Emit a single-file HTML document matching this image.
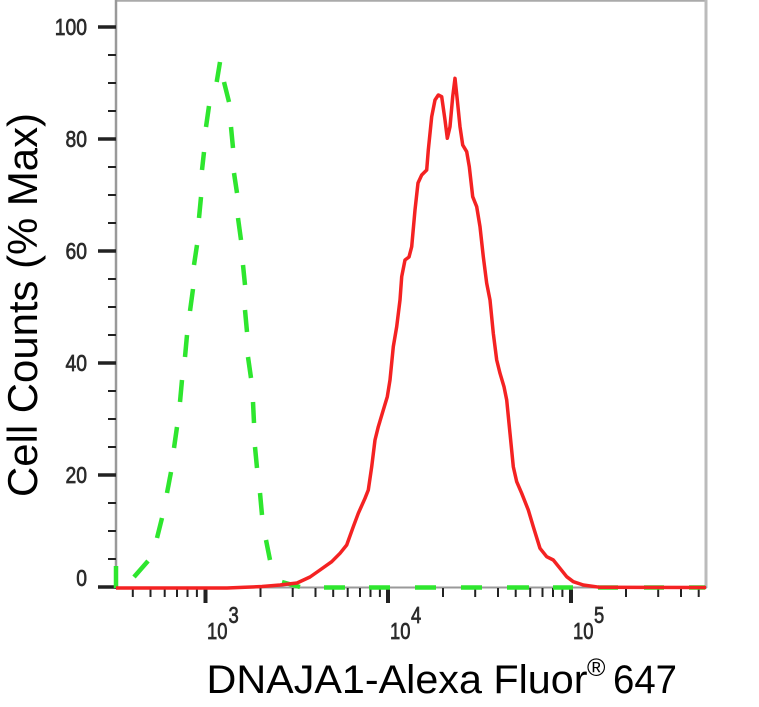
<!DOCTYPE html>
<html>
<head>
<meta charset="utf-8">
<style>
  html,body{margin:0;padding:0;background:#fff;}
  svg{display:block;}
  text{font-family:"Liberation Sans", Arial, sans-serif;}
</style>
</head>
<body>
<svg width="759" height="707" viewBox="0 0 759 707" xmlns="http://www.w3.org/2000/svg">
  <rect x="0" y="0" width="759" height="707" fill="#fff"/>

  <!-- frame -->
  <line x1="116" y1="0.8" x2="707" y2="0.8" stroke="#aaa" stroke-width="2"/>
  <line x1="706" y1="0" x2="706" y2="588" stroke="#bbb" stroke-width="3"/>
  <line x1="116" y1="0" x2="116" y2="589" stroke="#999" stroke-width="2.5"/>
  <line x1="116" y1="587.5" x2="707" y2="587.5" stroke="#999" stroke-width="2"/>

  <!-- y ticks -->
  <g stroke="#222">
    <g stroke-width="3.5">
      <line x1="98" y1="27" x2="116" y2="27"/>
      <line x1="98" y1="139" x2="116" y2="139"/>
      <line x1="98" y1="251" x2="116" y2="251"/>
      <line x1="98" y1="363" x2="116" y2="363"/>
      <line x1="98" y1="475" x2="116" y2="475"/>
      <line x1="98" y1="587" x2="116" y2="587"/>
    </g>
    <g stroke-width="2">
      <line x1="108" y1="55" x2="116" y2="55"/>
      <line x1="108" y1="83" x2="116" y2="83"/>
      <line x1="108" y1="111" x2="116" y2="111"/>
      <line x1="108" y1="167" x2="116" y2="167"/>
      <line x1="108" y1="195" x2="116" y2="195"/>
      <line x1="108" y1="223" x2="116" y2="223"/>
      <line x1="108" y1="279" x2="116" y2="279"/>
      <line x1="108" y1="307" x2="116" y2="307"/>
      <line x1="108" y1="335" x2="116" y2="335"/>
      <line x1="108" y1="391" x2="116" y2="391"/>
      <line x1="108" y1="419" x2="116" y2="419"/>
      <line x1="108" y1="447" x2="116" y2="447"/>
      <line x1="108" y1="503" x2="116" y2="503"/>
      <line x1="108" y1="531" x2="116" y2="531"/>
      <line x1="108" y1="559" x2="116" y2="559"/>
    </g>
  </g>

  <!-- y tick labels -->
  <g fill="#2b2b2b" stroke="#2b2b2b" stroke-width="0.7" font-size="23" text-anchor="end">
    <text transform="translate(87,35) scale(0.84,1)">100</text>
    <text transform="translate(87,147) scale(0.84,1)">80</text>
    <text transform="translate(87,259) scale(0.84,1)">60</text>
    <text transform="translate(87,371) scale(0.84,1)">40</text>
    <text transform="translate(87,483) scale(0.84,1)">20</text>
    <text transform="translate(87,586) scale(0.84,1)">0</text>
  </g>

  <!-- x ticks -->
  <g stroke="#222">
    <g stroke-width="4">
      <line x1="205.5" y1="588" x2="205.5" y2="603"/>
      <line x1="388" y1="588" x2="388" y2="603"/>
      <line x1="571" y1="588" x2="571" y2="603"/>
    </g>
    <g stroke-width="2">
      <line x1="132.8" y1="588" x2="132.8" y2="597"/>
      <line x1="150.5" y1="588" x2="150.5" y2="597"/>
      <line x1="164.7" y1="588" x2="164.7" y2="597"/>
      <line x1="177" y1="588" x2="177" y2="597"/>
      <line x1="187.5" y1="588" x2="187.5" y2="597"/>
      <line x1="196.9" y1="588" x2="196.9" y2="597"/>
      <line x1="260.5" y1="588" x2="260.5" y2="597"/>
      <line x1="292.7" y1="588" x2="292.7" y2="597"/>
      <line x1="315.5" y1="588" x2="315.5" y2="597"/>
      <line x1="333.2" y1="588" x2="333.2" y2="597"/>
      <line x1="347.7" y1="588" x2="347.7" y2="597"/>
      <line x1="360" y1="588" x2="360" y2="597"/>
      <line x1="370.5" y1="588" x2="370.5" y2="597"/>
      <line x1="379.9" y1="588" x2="379.9" y2="597"/>
      <line x1="443" y1="588" x2="443" y2="597"/>
      <line x1="475.2" y1="588" x2="475.2" y2="597"/>
      <line x1="498" y1="588" x2="498" y2="597"/>
      <line x1="515.7" y1="588" x2="515.7" y2="597"/>
      <line x1="530.2" y1="588" x2="530.2" y2="597"/>
      <line x1="542.5" y1="588" x2="542.5" y2="597"/>
      <line x1="553" y1="588" x2="553" y2="597"/>
      <line x1="562.4" y1="588" x2="562.4" y2="597"/>
      <line x1="626" y1="588" x2="626" y2="597"/>
      <line x1="658.2" y1="588" x2="658.2" y2="597"/>
      <line x1="681" y1="588" x2="681" y2="597"/>
      <line x1="698.7" y1="588" x2="698.7" y2="597"/>
    </g>
  </g>

  <!-- x tick labels -->
  <g fill="#2b2b2b" stroke="#2b2b2b" stroke-width="0.7" font-size="23">
    <text transform="translate(207,639) scale(0.8,1)">10</text>
    <text transform="translate(228.5,623) scale(0.8,1)">3</text>
    <text transform="translate(390,639) scale(0.8,1)">10</text>
    <text transform="translate(411,623) scale(0.8,1)">4</text>
    <text transform="translate(573,639) scale(0.8,1)">10</text>
    <text transform="translate(594,623) scale(0.8,1)">5</text>
  </g>

  <!-- green dashed curve (isotype) -->
  <g stroke="#2ee62e" stroke-width="4.5" stroke-linecap="butt" fill="none">
    <line x1="116" y1="588" x2="116" y2="566"/>
    <line x1="134" y1="577" x2="148" y2="561"/>
    <line x1="157" y1="538" x2="162" y2="518"/>
    <line x1="167" y1="493" x2="171" y2="472"/>
    <line x1="174" y1="448" x2="177" y2="427"/>
    <line x1="180" y1="402" x2="182" y2="380"/>
    <line x1="185" y1="357" x2="187" y2="335"/>
    <line x1="190" y1="311" x2="193" y2="289"/>
    <line x1="194" y1="265" x2="197" y2="245"/>
    <line x1="199" y1="218" x2="201" y2="197"/>
    <line x1="202" y1="170" x2="204" y2="152"/>
    <line x1="206" y1="127" x2="209" y2="106"/>
    <line x1="216.7" y1="82" x2="220" y2="62"/>
    <line x1="224" y1="82" x2="229" y2="102"/>
    <line x1="231" y1="127" x2="233" y2="148"/>
    <line x1="234" y1="173" x2="237" y2="193"/>
    <line x1="238" y1="218" x2="241" y2="240"/>
    <line x1="243" y1="265" x2="245" y2="285"/>
    <line x1="245" y1="310" x2="247" y2="332"/>
    <line x1="248" y1="357" x2="251" y2="378"/>
    <line x1="253" y1="402" x2="254" y2="423"/>
    <line x1="255" y1="447" x2="257" y2="468"/>
    <line x1="260" y1="493" x2="262" y2="515"/>
    <line x1="266" y1="540" x2="270" y2="560"/>
    <line x1="282" y1="582" x2="300" y2="587"/>
    <line x1="324" y1="587.5" x2="345" y2="587.5"/>
    <line x1="369" y1="587.5" x2="390" y2="587.5"/>
    <line x1="415" y1="587.5" x2="436" y2="587.5"/>
    <line x1="461" y1="587.5" x2="482" y2="587.5"/>
    <line x1="507" y1="587.5" x2="529" y2="587.5"/>
    <line x1="553" y1="587.5" x2="573" y2="587.5"/>
    <line x1="598" y1="587.5" x2="618" y2="587.5"/>
    <line x1="644" y1="587.5" x2="664" y2="587.5"/>
    <line x1="689" y1="587.5" x2="705" y2="587.5"/>
  </g>

  <!-- red curve -->
  <polyline fill="none" stroke="#f42222" stroke-width="3.5" stroke-linejoin="round"
    points="116,588 227,588 245,587.3 262,586.5 280,585 297,583 310,577 320,570 331.7,561.7 340,553.3 346.7,545 353.3,526.7 358.3,513.3 365,498.3 368.3,490 371.7,466.7 375,440 378.3,426.7 383.3,410 387.3,396.7 390,380 393.3,346.7 396.7,326.7 400,300 401.7,276.7 405,260 409,257 411.7,246.7 415,210 418,183 421.7,175 426.7,170 428.3,150 431.7,116.7 435,100 438.3,95 441.7,96.7 445,120 447.3,138.3 450,126.7 452.7,96.7 455,78.3 457.3,100 460,126.7 462.7,145 466.7,151.7 469.3,166.7 472.7,196.7 476.7,206.7 480,226.7 483.3,256.7 486.7,283.3 490,300 493.3,333.3 496.7,360 500,373.3 504,386.7 506.7,400 510,433.3 513.3,466.7 516.7,481.7 521.7,493.3 528.3,510 533.3,526.7 540,548.3 546.7,556.7 553.3,560 560,568.3 566.7,576.7 573.3,581.7 583.3,585 600,587.3 706,587.5"/>

  <!-- axis titles -->
  <text transform="translate(37,497) rotate(-90)" font-size="42" fill="#000" textLength="384" lengthAdjust="spacingAndGlyphs">Cell Counts (% Max)</text>

  <text x="206.5" y="693" font-size="40" fill="#000" textLength="381" lengthAdjust="spacingAndGlyphs">DNAJA1-Alexa Fluor</text>
  <text x="587" y="676" font-size="25" fill="#000">®</text>
  <text x="613" y="693" font-size="40" fill="#000" textLength="64" lengthAdjust="spacingAndGlyphs">647</text>
</svg>
</body>
</html>
